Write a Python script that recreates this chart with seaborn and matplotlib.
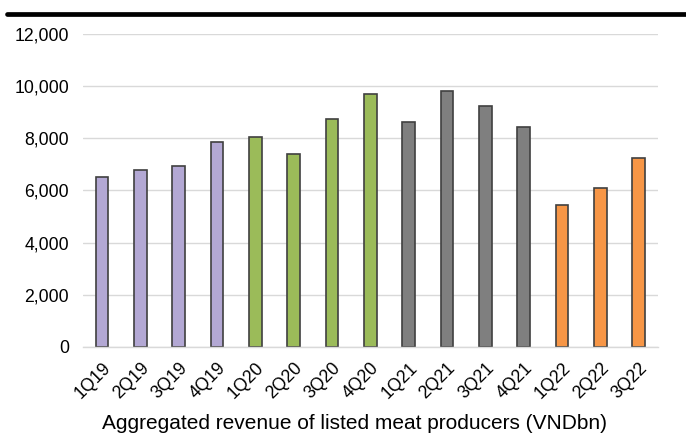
import matplotlib
matplotlib.use("Agg")
import matplotlib.pyplot as plt
from matplotlib.lines import Line2D
from matplotlib.ticker import FuncFormatter
import seaborn as sns
import pandas as pd

quarters = ["1Q19", "2Q19", "3Q19", "4Q19", "1Q20", "2Q20", "3Q20", "4Q20",
            "1Q21", "2Q21", "3Q21", "4Q21", "1Q22", "2Q22", "3Q22"]
revenue = [6500, 6790, 6920, 7850, 8060, 7410, 8740, 9700,
           8630, 9800, 9240, 8450, 5460, 6100, 7240]
year_colors = {"2019": "#b3a8d4", "2020": "#9bbb59", "2021": "#7f7f7f", "2022": "#f79646"}
y_ticks = [0, 2000, 4000, 6000, 8000, 10000, 12000]
x_label = "Aggregated revenue of listed meat producers (VNDbn)"

df = pd.DataFrame({"quarter": quarters, "revenue": revenue})
df["year"] = "20" + df["quarter"].str[-2:]

sns.set_theme(style="white")
plt.rcParams["font.family"] = ["Liberation Sans", "DejaVu Sans"]

fig = plt.figure(figsize=(6.86, 4.34), dpi=100)
ax = fig.add_axes([0.121, 0.2005, 0.838, 0.7212])

sns.barplot(data=df, x="quarter", y="revenue", hue="year", palette=year_colors,
            dodge=False, width=0.33, saturation=1, edgecolor="#404040",
            linewidth=1.2, legend=False, ax=ax)

ax.set_ylim(0, 12000)
ax.set_yticks(y_ticks)
ax.yaxis.set_major_formatter(FuncFormatter(lambda v, p: f"{int(v):,}"))
ax.grid(axis="y", color="#d9d9d9", linewidth=1.0)
ax.set_axisbelow(True)
for side in ["top", "right", "left"]:
    ax.spines[side].set_visible(False)
ax.spines["bottom"].set_color("#d9d9d9")
ax.spines["bottom"].set_linewidth(1.0)

ax.tick_params(axis="y", labelsize=12.7, colors="#000000", length=0, pad=10)
ax.tick_params(axis="x", labelsize=12.7, colors="#000000", length=0, pad=9)
plt.setp(ax.get_xticklabels(), rotation=45, ha="right", rotation_mode="anchor")
ax.set_ylabel("")
ax.set_xlabel(x_label, fontsize=15, color="#000000", va="baseline")
ax.xaxis.set_label_coords(0.473, -0.262)

fig.add_artist(Line2D([7 / 686, 1.0], [1 - 14 / 434, 1 - 14 / 434],
                      color="black", linewidth=3.4, transform=fig.transFigure))

fig.savefig("out.png", dpi=100)
